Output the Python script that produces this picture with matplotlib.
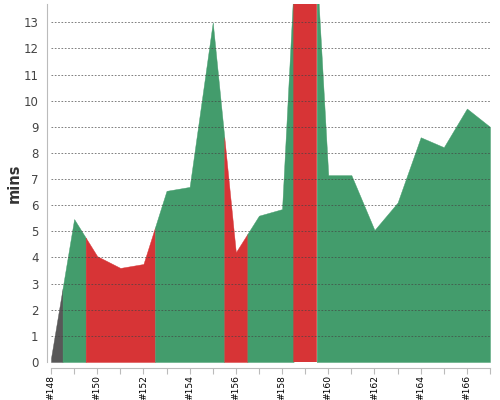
import matplotlib.pyplot as plt
import numpy as np

# build numbers, duration in minutes, build result
builds = [148, 149, 150, 151, 152, 153, 154, 155, 156, 157,
          158, 159, 160, 161, 162, 163, 164, 165, 166, 167]
minutes = [0.15, 5.47, 4.05, 3.6, 3.75, 6.55, 6.7, 13.0, 4.2, 5.6,
           5.85, 23.0, 7.15, 7.15, 5.05, 6.1, 8.6, 8.22, 9.7, 9.0]
status = ['aborted', 'ok', 'fail', 'fail', 'fail', 'ok', 'ok', 'ok', 'fail', 'ok',
          'ok', 'fail', 'ok', 'ok', 'ok', 'ok', 'ok', 'ok', 'ok', 'ok']
tick_labels = ['#%d' % b for b in builds]

colors = {'ok': '#439c6c', 'fail': '#d73436', 'aborted': '#585858'}

fig = plt.figure(figsize=(5, 4), dpi=100)
ax = fig.add_axes([0.102, 0.095, 0.878, 0.895])

xs = np.array(builds, dtype=float)
ys = np.array(minutes)
lo, hi = xs[0], xs[-1]

# group consecutive builds with the same result; each build owns b-0.5 .. b+0.5
runs = []
for i, st in enumerate(status):
    if runs and runs[-1][0] == st:
        runs[-1][2] = i
    else:
        runs.append([st, i, i])

for st, i0, i1 in runs:
    seg = np.concatenate([[max(xs[i0] - 0.5, lo)], xs[i0:i1 + 1], [min(xs[i1] + 0.5, hi)]])
    ax.fill_between(seg, np.interp(seg, xs, ys), 0, facecolor=colors[st],
                    edgecolor=colors[st], linewidth=0.3, zorder=1)

ax.set_xlim(lo, hi)
ax.set_ylim(0, 13.7)
ax.set_yticks(range(0, 14))
ax.set_xticks(builds)
ax.set_xticklabels([t if i % 2 == 0 else '' for i, t in enumerate(tick_labels)])

ax.grid(axis='y', color='#444444', linestyle=(0, (2, 2)), linewidth=0.6, alpha=0.8, zorder=2)
ax.set_axisbelow(False)

ax.set_ylabel('mins', fontsize=10.5, fontweight='bold', color='#333333', labelpad=1)
ax.tick_params(axis='y', length=0, labelsize=8.5, labelcolor='#444444', pad=6)
ax.tick_params(axis='x', length=4, color='#bbbbbb', pad=1.5, labelsize=6.6,
               labelrotation=90, labelcolor='black')

for s in ['top', 'right']:
    ax.spines[s].set_visible(False)
ax.spines['left'].set_position(('outward', 3))
ax.spines['bottom'].set_position(('outward', 4))
ax.spines['left'].set_color('#bbbbbb')
ax.spines['bottom'].set_color('#bbbbbb')

fig.savefig('out.png', dpi=100)
